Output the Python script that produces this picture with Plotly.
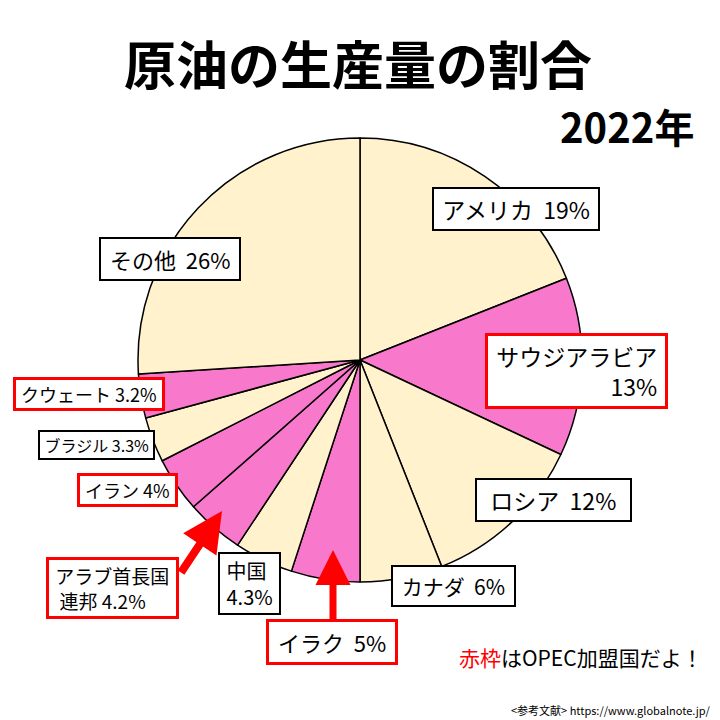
import plotly.graph_objects as go

countries = ["アメリカ", "サウジアラビア", "ロシア", "カナダ", "イラク", "中国",
             "アラブ首長国連邦", "イラン", "ブラジル", "クウェート", "その他"]
shares = [19, 13, 12, 6, 5, 4.3, 4.2, 4, 3.3, 3.2, 26]
opec = [False, True, False, False, True, False, True, True, False, True, False]

CREAM = "#FFF2CC"
PINK = "#F878CB"
colors = [PINK if o else CREAM for o in opec]

FONT = "Noto Sans CJK JP"
W = H = 720
SP = "&nbsp;"


def px(x):
    return x / W


def py(y):
    return 1 - y / H


fig = go.Figure(go.Pie(
    labels=countries, values=shares, sort=False, direction="clockwise",
    rotation=0, textinfo="none", hoverinfo="label+percent",
    marker=dict(colors=colors, line=dict(color="black", width=1.5)),
    domain=dict(x=[px(138), px(582)], y=[py(582), py(138)]),
    showlegend=False,
))

annotations = []

# title
annotations.append(dict(x=px(358), y=py(62), text="<b>原油の生産量の割合</b>",
                        font=dict(size=52, family=FONT, color="black"), showarrow=False))
annotations.append(dict(x=px(627), y=py(126), text="<b>2022年</b>",
                        font=dict(size=40, family=FONT, color="black"), showarrow=False))

# label boxes: (text, cx, cy, fontsize, red, align, pad, side spaces)
labels = [
    ("アメリカ" + SP * 2 + "19%", 516, 209, 23, False, "center", 3, 1),
    ("サウジアラビア<br>13%", 576, 371, 23, True, "right", 3, 1),
    ("ロシア" + SP * 2 + "12%", 553, 500, 23, False, "center", 3, 2),
    ("カナダ" + SP * 2 + "6%", 453, 586, 21, False, "center", 4, 1),
    ("イラク" + SP * 2 + "5%", 332, 642, 22, True, "center", 4, 1),
    ("中国<br>4.3%", 249, 583, 20, False, "left", 2, 1),
    ("アラブ首長国<br> 連邦 4.2%", 112, 588, 19, True, "left", 2, 1),
    ("イラン 4%", 127, 490, 18, True, "center", 1, 1),
    ("ブラジル 3.3%", 96, 445, 16, False, "center", 1, 1),
    ("クウェート 3.2%", 89, 394, 18, True, "center", 1, 1),
    ("その他" + SP * 2 + "26%", 170, 259, 22, False, "center", 4, 1),
]
for t, cx, cy, fs, red, al, pad, ns in labels:
    lines = t.split("<br>")
    t2 = "<br>".join(SP * ns + ln + SP * ns for ln in lines)
    annotations.append(dict(
        x=px(cx), y=py(cy), text=t2, showarrow=False, align=al,
        font=dict(size=fs, family=FONT, color="black"),
        bgcolor="white", bordercolor="#FF0000" if red else "black",
        borderwidth=3 if red else 2, borderpad=pad,
    ))

# arrows
annotations.append(dict(x=px(222), y=py(511), ax=180 - 222, ay=574 - 511,
                        axref="pixel", ayref="pixel",
                        text="", showarrow=True, arrowhead=2, arrowsize=1.0,
                        arrowwidth=8, arrowcolor="#FF0000", standoff=0))
annotations.append(dict(x=px(333), y=py(550), ax=0, ay=622 - 550,
                        axref="pixel", ayref="pixel",
                        text="", showarrow=True, arrowhead=2, arrowsize=1.0,
                        arrowwidth=7, arrowcolor="#FF0000", standoff=0))

annotations.append(dict(x=px(581), y=py(657),
                        text="<span style='color:#FF0000'>赤枠</span>はOPEC加盟国だよ！",
                        font=dict(size=21, family=FONT, color="black"), showarrow=False))
annotations.append(dict(x=px(712), y=py(710), xanchor="right",
                        text="&lt;参考文献&gt; https://www.globalnote.jp/",
                        font=dict(size=11, family=FONT, color="black"), showarrow=False))

for a in annotations:
    a.setdefault("xref", "paper")
    a.setdefault("yref", "paper")
    a.setdefault("xanchor", "center")
    a.setdefault("yanchor", "middle")

fig.update_layout(
    width=W, height=H, margin=dict(l=0, r=0, t=0, b=0),
    paper_bgcolor="white", plot_bgcolor="white",
    annotations=annotations,
)

fig.write_html("out.html")
